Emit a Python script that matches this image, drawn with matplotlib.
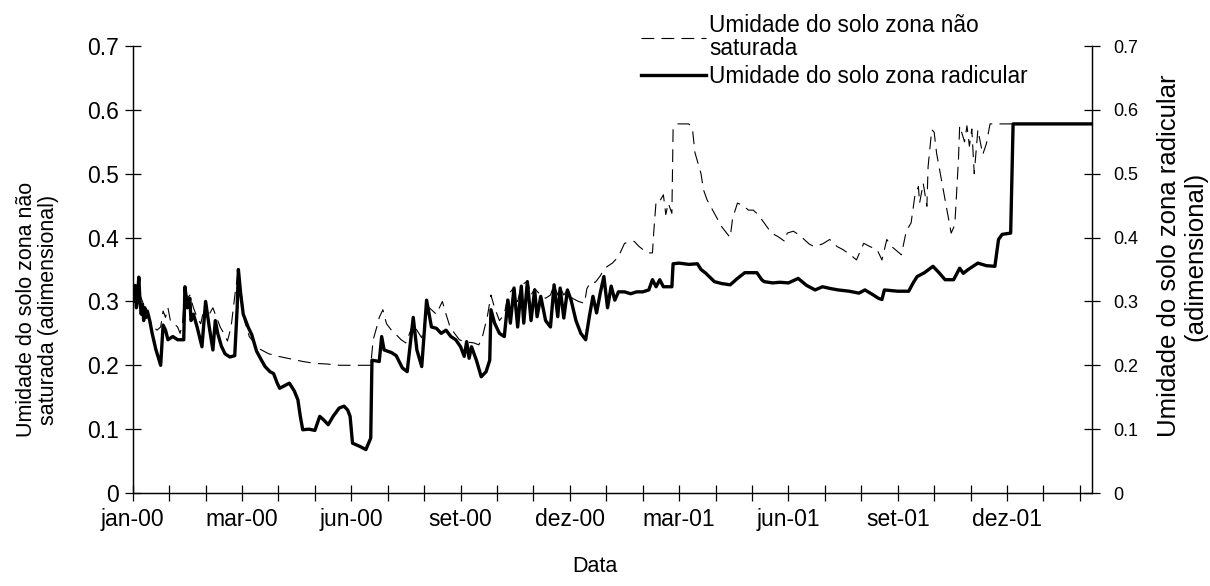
import numpy as np
import matplotlib
matplotlib.use("Agg")
import matplotlib.pyplot as plt

plt.rcParams["font.family"] = ["Liberation Sans", "DejaVu Sans"]

# Daily series: day index since 01/jan/2000 and soil moisture (adimensional)
nsat_days = [0, 2, 4, 5, 6, 8, 10, 12, 14, 17, 20, 23, 25, 27, 29, 31, 34, 37, 39, 41,
             43, 45, 47, 50, 53, 56, 60, 63, 66, 69, 72, 75, 78, 81, 84, 87, 89, 92, 96, 100,
             105, 112, 120, 130, 140, 150, 160, 170, 180, 190, 196, 198, 201, 203, 206, 209,
             213, 217, 221, 225, 228, 231, 234, 238, 243, 246, 250, 255, 258, 261, 265, 269,
             273, 277, 281, 285, 288, 292, 295, 298, 302, 306, 309, 314, 317, 320, 325, 328,
             331, 336, 340, 344, 347, 350, 352, 355, 358, 362, 367, 372, 374, 377, 381, 385,
             388, 391, 395, 400, 405, 409, 413, 417, 421, 424, 428, 429, 431, 434, 437, 439,
             441, 444, 445, 448, 458, 461, 463, 468, 470, 473, 479, 485, 492, 494, 498, 503,
             507, 511, 515, 520, 526, 531, 537, 539, 544, 549, 553, 557, 561, 568, 574, 580,
             585, 591, 596, 602, 607, 613, 617, 621, 625, 633, 637, 641, 644, 647, 648, 651,
             654, 655, 658, 660, 662, 667, 670, 674, 677, 680, 681, 685, 687, 689, 691, 693,
             696, 700, 703, 706, 789]
nsat_vals = [0.325, 0.31, 0.32, 0.335, 0.31, 0.30, 0.29, 0.285, 0.27, 0.26, 0.255, 0.26,
             0.285, 0.275, 0.29, 0.27, 0.265, 0.26, 0.25, 0.265, 0.323, 0.305, 0.31, 0.29,
             0.275, 0.265, 0.30, 0.28, 0.29, 0.275, 0.26, 0.25, 0.238, 0.26, 0.308, 0.35,
             0.32, 0.27, 0.245, 0.235, 0.225, 0.218, 0.214, 0.21, 0.206, 0.203, 0.202, 0.20,
             0.20, 0.20, 0.20, 0.24, 0.26, 0.275, 0.287, 0.265, 0.255, 0.248, 0.24, 0.235,
             0.25, 0.266, 0.255, 0.243, 0.292, 0.287, 0.28, 0.30, 0.28, 0.262, 0.25, 0.24,
             0.237, 0.236, 0.235, 0.232, 0.245, 0.276, 0.31, 0.29, 0.27, 0.28, 0.31, 0.322,
             0.30, 0.325, 0.332, 0.31, 0.32, 0.31, 0.305, 0.31, 0.326, 0.31, 0.322, 0.31,
             0.318, 0.305, 0.30, 0.297, 0.32, 0.33, 0.33, 0.34, 0.35, 0.355, 0.36, 0.37,
             0.391, 0.393, 0.394, 0.386, 0.38, 0.376, 0.376, 0.407, 0.457, 0.457, 0.467,
             0.436, 0.454, 0.438, 0.569, 0.578, 0.578, 0.569, 0.533, 0.50, 0.475, 0.459,
             0.438, 0.417, 0.40, 0.43, 0.454, 0.45, 0.443, 0.443, 0.436, 0.423, 0.407, 0.402,
             0.394, 0.407, 0.41, 0.404, 0.397, 0.39, 0.386, 0.39, 0.397, 0.386, 0.381, 0.373,
             0.365, 0.391, 0.386, 0.381, 0.365, 0.397, 0.386, 0.373, 0.41, 0.423, 0.464,
             0.48, 0.454, 0.485, 0.449, 0.511, 0.569, 0.565, 0.532, 0.48, 0.449, 0.407,
             0.42, 0.522, 0.575, 0.55, 0.575, 0.543, 0.57, 0.50, 0.569, 0.53, 0.547, 0.578,
             0.578]

rad_days = [0, 1, 2, 3, 4, 5, 6, 7, 8, 9, 10, 11, 12, 14, 16, 19, 23, 25, 27, 29, 33, 37,
            42, 43, 45, 47, 48, 50, 53, 57, 60, 63, 66, 68, 70, 73, 76, 80, 84, 86, 87, 89,
            91, 95, 98, 102, 106, 109, 113, 116, 119, 121, 125, 129, 133, 136, 138, 140,
            145, 150, 154, 157, 161, 165, 170, 174, 177, 179, 181, 187, 192, 196, 197, 203,
            205, 207, 213, 217, 222, 226, 231, 234, 238, 242, 246, 250, 254, 258, 262, 266,
            270, 273, 275, 277, 279, 283, 287, 291, 294, 295, 298, 302, 306, 309, 311, 314,
            317, 320, 322, 325, 328, 331, 333, 336, 340, 344, 347, 350, 352, 355, 358, 361,
            365, 369, 373, 376, 379, 382, 385, 388, 391, 394, 397, 400, 405, 410, 415, 420,
            425, 428, 431, 434, 437, 441, 444, 445, 450, 458, 465, 468, 472, 479, 485, 492,
            498, 504, 514, 518, 520, 527, 533, 540, 548, 555, 562, 568, 575, 581, 590, 598,
            603, 610, 614, 617, 619, 630, 639, 643, 646, 652, 659, 664, 669, 676, 681, 684,
            688, 692, 696, 703, 710, 713, 716, 723, 725, 789]
rad_vals = [0.315, 0.30, 0.325, 0.29, 0.31, 0.338, 0.30, 0.28, 0.295, 0.27, 0.29, 0.275,
            0.285, 0.27, 0.25, 0.225, 0.20, 0.263, 0.255, 0.24, 0.245, 0.24, 0.24, 0.323,
            0.29, 0.305, 0.27, 0.28, 0.26, 0.229, 0.30, 0.26, 0.224, 0.27, 0.25, 0.23,
            0.218, 0.213, 0.215, 0.29, 0.35, 0.31, 0.28, 0.26, 0.248, 0.222, 0.208, 0.198,
            0.19, 0.187, 0.172, 0.164, 0.168, 0.172, 0.16, 0.146, 0.12, 0.099, 0.10, 0.098,
            0.12, 0.115, 0.107, 0.12, 0.133, 0.136, 0.13, 0.12, 0.078, 0.073, 0.068, 0.086,
            0.208, 0.206, 0.245, 0.224, 0.22, 0.215, 0.196, 0.19, 0.275, 0.224, 0.198, 0.302,
            0.26, 0.258, 0.25, 0.255, 0.245, 0.24, 0.229, 0.214, 0.237, 0.211, 0.229, 0.208,
            0.182, 0.19, 0.208, 0.287, 0.266, 0.25, 0.245, 0.302, 0.266, 0.321, 0.26, 0.324,
            0.266, 0.331, 0.27, 0.318, 0.276, 0.308, 0.27, 0.26, 0.326, 0.276, 0.321, 0.274,
            0.318, 0.302, 0.27, 0.25, 0.24, 0.276, 0.308, 0.282, 0.313, 0.339, 0.29, 0.324,
            0.302, 0.315, 0.315, 0.312, 0.315, 0.315, 0.318, 0.334, 0.323, 0.334, 0.323,
            0.323, 0.323, 0.359, 0.36, 0.358, 0.359, 0.35, 0.344, 0.331, 0.328, 0.326,
            0.336, 0.345, 0.345, 0.334, 0.331, 0.329, 0.33, 0.329, 0.336, 0.325, 0.318,
            0.323, 0.32, 0.318, 0.316, 0.313, 0.318, 0.31, 0.305, 0.303, 0.318, 0.316,
            0.316, 0.33, 0.339, 0.345, 0.355, 0.345, 0.334, 0.334, 0.352, 0.344, 0.35,
            0.355, 0.36, 0.356, 0.355, 0.397, 0.405, 0.407, 0.578, 0.578]

n_days = 790
month_labels = ["jan-00", "mar-00", "jun-00", "set-00", "dez-00",
                "mar-01", "jun-01", "set-01", "dez-01"]
y_ticks = [0, 0.1, 0.2, 0.3, 0.4, 0.5, 0.6, 0.7]
y_ticklabels = ["0", "0.1", "0.2", "0.3", "0.4", "0.5", "0.6", "0.7"]

fig = plt.figure(figsize=(12.1, 5.86), dpi=100)
ax = fig.add_axes([0.1097, 0.1587, 0.7928, 0.7628])
ax2 = ax.twinx()

l1, = ax.plot(nsat_days, nsat_vals, color="black", lw=0.8,
              linestyle=(0, (11.5, 6.5)),
              label="Umidade do solo zona não\nsaturada")
l2, = ax2.plot(rad_days, rad_vals, color="black", lw=2.4,
               solid_joinstyle="round", label="Umidade do solo zona radicular")

for a in (ax, ax2):
    a.set_xlim(0, n_days)
    a.set_ylim(0, 0.7)
    a.set_yticks(y_ticks)
    a.set_yticklabels(y_ticklabels)
    a.spines["top"].set_visible(False)
    for s in a.spines.values():
        s.set_linewidth(0.9)

# monthly ticks (30 days), labelled every third one
xt = np.arange(0, n_days, 30)
xl = [month_labels[i // 3] if i % 3 == 0 and i // 3 < len(month_labels) else ""
      for i in range(len(xt))]
ax.set_xticks(xt)
ax.set_xticklabels(xl)

ax.tick_params(axis="x", direction="inout", length=12, width=0.9, pad=5, labelsize=16.5)
ax.tick_params(axis="y", direction="inout", length=12, width=0.9, pad=4, labelsize=16.5)
ax2.tick_params(axis="y", direction="inout", length=12, width=0.9, pad=9, labelsize=13)

ax.set_xlabel("Data", fontsize=15.5, labelpad=18)
ax.xaxis.label.set_x(0.482)
ax.set_ylabel("Umidade do solo zona não\nsaturada (adimensional)", fontsize=15.5,
              labelpad=20, linespacing=1.05)
ax.yaxis.label.set_y(0.41)
ax2.set_ylabel("Umidade do solo zona radicular\n(adimensional)", fontsize=18.5, labelpad=14,
               rotation=90, linespacing=1.1)
ax2.yaxis.label.set_y(0.53)

leg = fig.legend(handles=[l1, l2], loc="upper left", bbox_to_anchor=(0.52, 0.995),
                 bbox_transform=fig.transFigure, frameon=False, fontsize=16.3,
                 handlelength=2.9, handletextpad=0.12, borderpad=0, labelspacing=0.2)
for t in leg.get_texts():
    t.set_linespacing(1.0)

fig.savefig("out.png", dpi=100)
